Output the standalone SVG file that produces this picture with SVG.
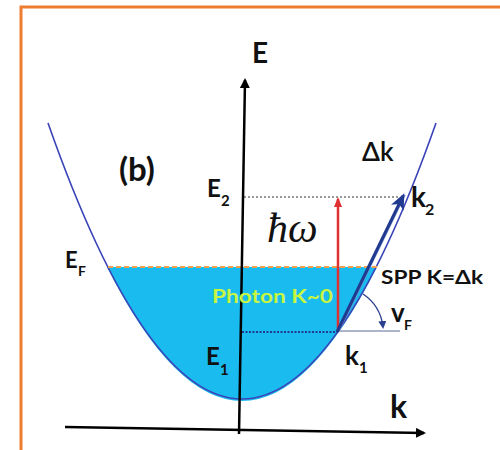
<svg xmlns="http://www.w3.org/2000/svg" width="500" height="450" viewBox="0 0 500 450">
  <style>
    .lbl { font-family: Lato, "Liberation Sans", Arial, sans-serif; font-weight: bold; fill: #111; }
    .ax { stroke: #000; stroke-width: 2.5; fill: none; }
  </style>
  <defs>
    <marker id="ahBlack" markerWidth="10" markerHeight="10" refX="8" refY="5" orient="auto" markerUnits="userSpaceOnUse">
      <path d="M0,0 L10,5 L0,10 Z" fill="#000"/>
    </marker>
    <marker id="ahRed" markerWidth="10" markerHeight="10" refX="8" refY="5" orient="auto" markerUnits="userSpaceOnUse">
      <path d="M0,1 L10,5 L0,9 Z" fill="#E03030"/>
    </marker>
    <marker id="ahNavy" markerWidth="16" markerHeight="14" refX="13" refY="7" orient="auto" markerUnits="userSpaceOnUse">
      <path d="M0,0 L16,7 L0,14 L4,7 Z" fill="#1F3A8F"/>
    </marker>
    <marker id="ahSmall" markerWidth="8" markerHeight="8" refX="6" refY="4" orient="auto" markerUnits="userSpaceOnUse">
      <path d="M0,0 L8,4 L0,8 Z" fill="#2A3F8F"/>
    </marker>
  </defs>

  <rect width="500" height="450" fill="#fff"/>
  <rect id="frame" x="21" y="7" width="500" height="460" fill="none" stroke="#ED7D31" stroke-width="3"/>

  <g id="band">
    <path d="M107,267 Q242,535 377,267 Z" fill="#1ABCF0"/>
    <path d="M48,123 Q242,675 436,123" fill="none" stroke="#3A44B8" stroke-width="1.6"/>
    <line x1="108" y1="267" x2="377" y2="267" stroke="#F0A050" stroke-width="2" stroke-dasharray="5,3"/>
  </g>

  <g id="connectors">
    <line class="ax" x1="239" y1="434" x2="245" y2="80" marker-end="url(#ahBlack)"/>
    <line class="ax" x1="65" y1="427" x2="424" y2="433" marker-end="url(#ahBlack)"/>
    <line x1="244" y1="197" x2="398" y2="197" stroke="#333" stroke-width="1.2" stroke-dasharray="2,2"/>
    <line x1="242" y1="332" x2="337" y2="332" stroke="#1F3A8F" stroke-width="2" stroke-dasharray="2,1.5"/>
    <line x1="337" y1="331" x2="400" y2="331" stroke="#5A6A9A" stroke-width="1"/>
    <line x1="338" y1="332" x2="338" y2="199" stroke="#E03030" stroke-width="2.5" marker-end="url(#ahRed)"/>
    <line x1="339" y1="331" x2="405" y2="195" stroke="#7C8FD0" stroke-width="1.5"/>
    <line x1="337" y1="332" x2="403" y2="196" stroke="#1F3A8F" stroke-width="3" marker-end="url(#ahNavy)"/>
    <path d="M363,294 A46,46 0 0 1 383,327" fill="none" stroke="#2A3F8F" stroke-width="1.3" marker-end="url(#ahSmall)"/>
  </g>

  <g id="label-E"><text class="lbl" x="252" y="63" font-size="28">E</text></g>
  <g id="label-b"><text class="lbl" x="119" y="181" font-size="33">(b)</text></g>
  <g id="label-E2"><text class="lbl" x="207" y="197" font-size="24">E</text><text class="lbl" x="221" y="206" font-size="15">2</text></g>
  <g id="label-EF"><text class="lbl" x="65" y="268" font-size="22">E</text><text class="lbl" x="78" y="276" font-size="14">F</text></g>
  <g id="label-hw"><text x="267" y="242" font-family="Liberation Serif, serif" font-style="italic" font-size="42" fill="#111">ħω</text></g>
  <g id="label-photon"><text class="lbl" x="212" y="303" font-size="19" style="fill:#C8F540" textLength="121" lengthAdjust="spacingAndGlyphs">Photon K~0</text></g>
  <g id="label-spp"><text class="lbl" x="381" y="284" font-size="19" textLength="102" lengthAdjust="spacingAndGlyphs">SPP K=Δk</text></g>
  <g id="label-dk"><text class="lbl" x="362" y="161" font-size="26" style="font-weight:600">Δk</text></g>
  <g id="label-k2"><text class="lbl" x="411" y="207" font-size="28">k</text><text class="lbl" x="425" y="215" font-size="16">2</text></g>
  <g id="label-k1"><text class="lbl" x="345" y="365" font-size="26">k</text><text class="lbl" x="359" y="373" font-size="15">1</text></g>
  <g id="label-E1"><text class="lbl" x="206" y="365" font-size="24">E</text><text class="lbl" x="220" y="375" font-size="15">1</text></g>
  <g id="label-vF"><text class="lbl" x="391" y="322" font-size="26">v</text><text class="lbl" x="404" y="330" font-size="14">F</text></g>
  <g id="label-k"><text class="lbl" x="390" y="418" font-size="32">k</text></g>
</svg>
